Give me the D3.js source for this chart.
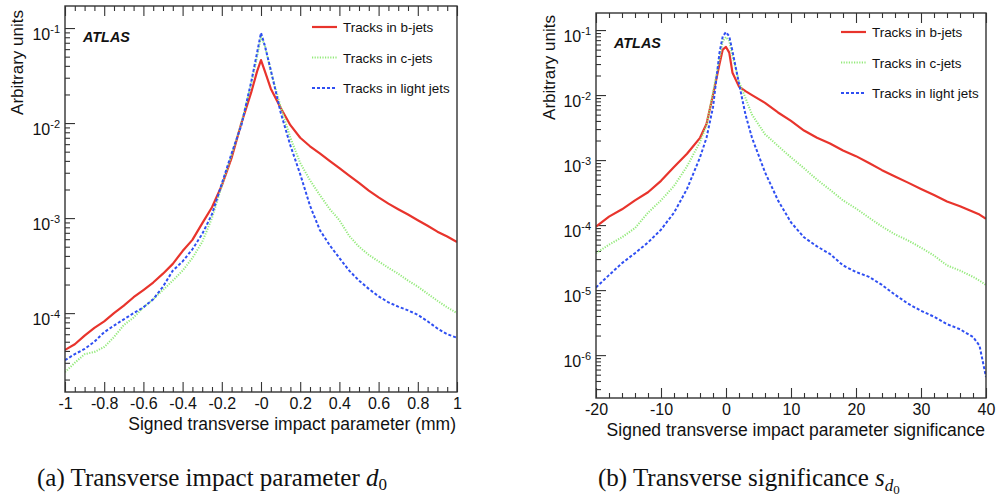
<!DOCTYPE html>
<html><head><meta charset="utf-8">
<script src="https://cdn.jsdelivr.net/npm/d3@7"></script>
<style>
html,body{margin:0;padding:0;background:#fff;}
svg{display:block;}
</style></head>
<body>
<svg id="chart" width="998" height="497"></svg>
<script>
// ---------- DATA ----------
// Panel (a): signed transverse impact parameter d0 (mm)
const d0X = [-1,-0.95,-0.9,-0.85,-0.8,-0.75,-0.7,-0.65,-0.6,-0.55,-0.5,-0.45,-0.4,-0.35,-0.3,-0.25,-0.2,-0.15,-0.1,-0.05,-0.02,0,0.02,0.05,0.1,0.15,0.2,0.25,0.3,0.35,0.4,0.45,0.5,0.55,0.6,0.65,0.7,0.75,0.8,0.85,0.9,0.95,1];
const d0B = [4.1e-5,4.7e-5,5.8e-5,7.0e-5,8.2e-5,1.0e-4,1.2e-4,1.47e-4,1.75e-4,2.1e-4,2.6e-4,3.3e-4,4.5e-4,5.9e-4,8.8e-4,1.3e-3,2.2e-3,4.3e-3,1.0e-2,2.1e-2,3.5e-2,4.6e-2,3.5e-2,2.3e-2,1.45e-2,9.5e-3,7.0e-3,5.7e-3,4.8e-3,4.0e-3,3.35e-3,2.8e-3,2.35e-3,1.95e-3,1.65e-3,1.42e-3,1.24e-3,1.09e-3,9.5e-4,8.3e-4,7.2e-4,6.4e-4,5.6e-4];
const d0C = [2.4e-5,3.0e-5,3.7e-5,3.9e-5,4.4e-5,5.6e-5,7.5e-5,9.0e-5,1.15e-4,1.4e-4,1.75e-4,2.2e-4,2.8e-4,3.8e-4,5.6e-4,1.0e-3,2.2e-3,4.6e-3,1.0e-2,2.6e-2,5.0e-2,8.1e-2,6.5e-2,3.5e-2,1.5e-2,7.0e-3,3.8e-3,2.5e-3,1.75e-3,1.25e-3,9.5e-4,6.5e-4,5.0e-4,4.1e-4,3.5e-4,3.0e-4,2.6e-4,2.2e-4,1.9e-4,1.6e-4,1.35e-4,1.15e-4,1.0e-4];
const d0L = [3.2e-5,3.7e-5,4.2e-5,5.0e-5,6.3e-5,7.4e-5,8.6e-5,1.0e-4,1.15e-4,1.4e-4,1.9e-4,2.8e-4,3.5e-4,4.7e-4,6.8e-4,1.1e-3,2.3e-3,4.8e-3,9.5e-3,2.7e-2,5.5e-2,8.9e-2,6.5e-2,3.6e-2,1.3e-2,5.8e-3,2.9e-3,1.35e-3,7.5e-4,5.2e-4,3.8e-4,2.8e-4,2.2e-4,1.8e-4,1.5e-4,1.3e-4,1.17e-4,1.07e-4,9.6e-5,8.2e-5,6.9e-5,6.0e-5,5.5e-5];

// Panel (b): signed transverse impact parameter significance
const sigX = [-20,-18,-16,-14,-12,-10,-8,-6,-4,-3,-2,-1,-0.5,0,0.5,1,2,3,4,6,8,10,12,14,16,18,20,22,24,26,28,30,32,34,36,38,39,40];
const sigB = [9.5e-5,1.35e-4,1.75e-4,2.4e-4,3.2e-4,4.8e-4,7.8e-4,1.25e-3,2.2e-3,3.6e-3,1.0e-2,3.0e-2,5.0e-2,5.5e-2,4.5e-2,2.2e-2,1.35e-2,1.15e-2,1.0e-2,7.6e-3,5.4e-3,4.0e-3,2.85e-3,2.2e-3,1.8e-3,1.4e-3,1.15e-3,9.0e-4,7.0e-4,5.6e-4,4.5e-4,3.6e-4,2.9e-4,2.3e-4,1.95e-4,1.6e-4,1.45e-4,1.25e-4];
const sigC = [3.7e-5,5.0e-5,6.5e-5,9.0e-5,1.55e-4,2.4e-4,4.0e-4,8.0e-4,1.9e-3,3.4e-3,1.1e-2,3.6e-2,6.8e-2,7.8e-2,6.8e-2,4.0e-2,1.6e-2,9.0e-3,5.0e-3,2.5e-3,1.65e-3,1.1e-3,7.5e-4,5.0e-4,3.5e-4,2.4e-4,1.8e-4,1.3e-4,9.5e-5,7.2e-5,5.8e-5,4.5e-5,3.4e-5,2.4e-5,2.0e-5,1.6e-5,1.4e-5,1.2e-5];
const sigL = [1.1e-5,1.7e-5,2.6e-5,3.7e-5,5.4e-5,8.5e-5,1.55e-4,3.6e-4,1.1e-3,2.2e-3,6.5e-3,4.5e-2,8.0e-2,9.3e-2,8.0e-2,4.7e-2,1.5e-2,5.0e-3,2.2e-3,6.5e-4,2.4e-4,1.1e-4,6.5e-5,4.7e-5,3.6e-5,2.4e-5,1.9e-5,1.6e-5,1.2e-5,8.5e-6,6.2e-6,4.8e-6,3.9e-6,3.0e-6,2.5e-6,1.9e-6,1.4e-6,4.6e-7];

// Tick labels and texts
const d0TickVals = [-1,-0.8,-0.6,-0.4,-0.2,0,0.2,0.4,0.6,0.8,1];
const d0TickLabels = ["-1","-0.8","-0.6","-0.4","-0.2","-0","0.2","0.4","0.6","0.8","1"];
const sigTickVals = [-20,-10,0,10,20,30,40];
const sigTickLabels = ["-20","-10","0","10","20","30","40"];
const d0Decades = [1e-1,1e-2,1e-3,1e-4];
const sigDecades = [1e-1,1e-2,1e-3,1e-4,1e-5,1e-6];
const seriesNames = ["Tracks in b-jets","Tracks in c-jets","Tracks in light jets"];

// ---------- STYLE ----------
const SANS = "'Liberation Sans', Arial, Helvetica, sans-serif";
const SERIF = "'Liberation Serif', 'Times New Roman', serif";
const styles = [
  {color:"#e8342c", width:2.2, dash:null},
  {color:"#93ea7a", width:2.0, dash:"1.2,1.4"},
  {color:"#2f4ff2", width:2.0, dash:"3,2"}
];

const svg = d3.select("#chart");

function minorLog(dom){
  const out=[];
  const lo=Math.floor(Math.log10(dom[0])), hi=Math.ceil(Math.log10(dom[1]));
  for(let e=lo;e<=hi;e++) for(let m=2;m<=9;m++){const v=m*Math.pow(10,e); if(v>=dom[0]&&v<=dom[1]) out.push(v);}
  return out;
}

function panel(cfg){
  const {x0,x1,y0,y1,xDom,yDom,xs,ys,ticks,tickLabels,minorStep,decades,xTitle,id} = cfg;
  const x = d3.scaleLinear().domain(xDom).range([x0,x1]);
  const y = d3.scaleLog().domain(yDom).range([y1,y0]);
  const g = svg.append("g");

  g.append("clipPath").attr("id","clip"+id).append("rect")
    .attr("x",x0).attr("y",y0).attr("width",x1-x0).attr("height",y1-y0);

  const xMinor=[];
  const nM=Math.round((xDom[1]-xDom[0])/minorStep);
  for(let i=0;i<=nM;i++){const v=+(xDom[0]+i*minorStep).toFixed(6); if(!ticks.some(t=>Math.abs(t-v)<1e-9)) xMinor.push(v);}

  const tickCol="#333";
  const styleAxis = sel=>{sel.select(".domain").remove(); sel.selectAll("line").attr("stroke",tickCol).attr("stroke-width",1.1);};

  g.append("g").attr("transform",`translate(0,${y1})`)
    .call(d3.axisBottom(x).tickValues(ticks).tickSize(-10).tickFormat((d,i)=>tickLabels[i]))
    .call(styleAxis)
    .call(a=>a.selectAll("text").attr("y",cfg.xLabelOff).attr("dy",0)
      .attr("font-family",SANS).attr("font-size",16).attr("fill","#111"));
  g.append("g").attr("transform",`translate(0,${y1})`)
    .call(d3.axisBottom(x).tickValues(xMinor).tickSize(-5).tickFormat(""))
    .call(styleAxis);
  g.append("g").attr("transform",`translate(0,${y0})`)
    .call(d3.axisTop(x).tickValues(ticks).tickSize(-10).tickFormat(""))
    .call(styleAxis);
  g.append("g").attr("transform",`translate(0,${y0})`)
    .call(d3.axisTop(x).tickValues(xMinor).tickSize(-5).tickFormat(""))
    .call(styleAxis);
  g.append("g").attr("transform",`translate(${x0},0)`)
    .call(d3.axisLeft(y).tickValues(decades).tickSize(-10).tickPadding(5).tickFormat(""))
    .call(styleAxis)
    .call(a=>a.selectAll("text").each(function(d){
      const t=d3.select(this).attr("y",11).attr("dy",0)
        .attr("font-family",SANS).attr("font-size",16).attr("fill","#111");
      t.text(null);
      t.append("tspan").text("10");
      t.append("tspan").attr("dy",-7).attr("font-size",11).text(String(Math.round(Math.log10(d))));
    }));
  g.append("g").attr("transform",`translate(${x0},0)`)
    .call(d3.axisLeft(y).tickValues(minorLog(yDom)).tickSize(-5).tickFormat(""))
    .call(styleAxis);

  const line = d3.line().x(d=>x(d[0])).y(d=>y(d[1]));
  const cg = g.append("g").attr("clip-path",`url(#clip${id})`);
  ys.forEach((arr,k)=>{
    const pts = xs.map((v,i)=>[v,arr[i]]);
    cg.append("path").attr("d",line(pts)).attr("fill","none")
      .attr("stroke",styles[k].color).attr("stroke-width",styles[k].width)
      .attr("stroke-dasharray",styles[k].dash).attr("stroke-linejoin","round");
  });

  g.append("rect").attr("x",x0).attr("y",y0).attr("width",x1-x0).attr("height",y1-y0)
    .attr("fill","none").attr("stroke","#333").attr("stroke-width",1.4);

  g.append("text").attr("x",cfg.atlas[0]).attr("y",cfg.atlas[1])
    .attr("font-family",SANS).attr("font-weight","bold").attr("font-style","italic")
    .attr("font-size",14.4).attr("fill","#111").text("ATLAS");

  seriesNames.forEach((nm,k)=>{
    const ly = cfg.leg[1] + k*30.5;
    g.append("line").attr("x1",cfg.leg[0]).attr("x2",cfg.leg[0]+25).attr("y1",ly).attr("y2",ly)
      .attr("stroke",styles[k].color).attr("stroke-width",styles[k].width)
      .attr("stroke-dasharray",styles[k].dash);
    g.append("text").attr("x",cfg.leg[0]+31).attr("y",ly+5)
      .attr("font-family",SANS).attr("font-size",13.4).attr("fill","#111").text(nm);
  });

  g.append("text").attr("x",x1-1).attr("y",cfg.xTitleY).attr("text-anchor","end")
    .attr("font-family",SANS).attr("font-size",17.5).attr("fill","#111").text(xTitle);
  g.append("text").attr("transform",`translate(${cfg.yTitle[0]},${cfg.yTitle[1]}) rotate(-90)`)
    .attr("text-anchor","end").attr("font-family",SANS).attr("font-size",17).attr("fill","#111")
    .text("Arbitrary units");
}

panel({id:"a", x0:65,x1:457,y0:6,y1:392, xDom:[-1,1], yDom:[1.479e-5,0.1706],
  xs:d0X, ys:[d0B,d0C,d0L], ticks:d0TickVals, tickLabels:d0TickLabels, minorStep:0.05,
  decades:d0Decades, xTitle:"Signed transverse impact parameter (mm)", xLabelOff:17, xTitleY:430,
  atlas:[83,42], leg:[312,27], yTitle:[23,10]});

panel({id:"b", x0:596,x1:986,y0:13,y1:398, xDom:[-20,40], yDom:[2.19e-7,0.183],
  xs:sigX, ys:[sigB,sigC,sigL], ticks:sigTickVals, tickLabels:sigTickLabels, minorStep:2,
  decades:sigDecades, xTitle:"Signed transverse impact parameter significance", xLabelOff:17, xTitleY:436,
  atlas:[614,48], leg:[841,32], yTitle:[555,15]});

function caption(x, parts){
  const t = svg.append("text").attr("x",x).attr("y",486)
    .attr("font-family",SERIF).attr("font-size",25).attr("fill","#111");
  parts.forEach(p=>{
    const s=t.append("tspan").text(p.t);
    if(p.i) s.attr("font-style","italic");
    if(p.fs) s.attr("font-size",p.fs);
    if(p.dy) s.attr("dy",p.dy);
  });
}
caption(37,[{t:"(a)  Transverse impact parameter "},{t:"d",i:1},{t:"0",fs:17,dy:4}]);
caption(598,[{t:"(b)  Transverse significance "},{t:"s",i:1},{t:"d",i:1,fs:17,dy:5},{t:"0",fs:13,dy:3}]);
</script>
</body></html>
